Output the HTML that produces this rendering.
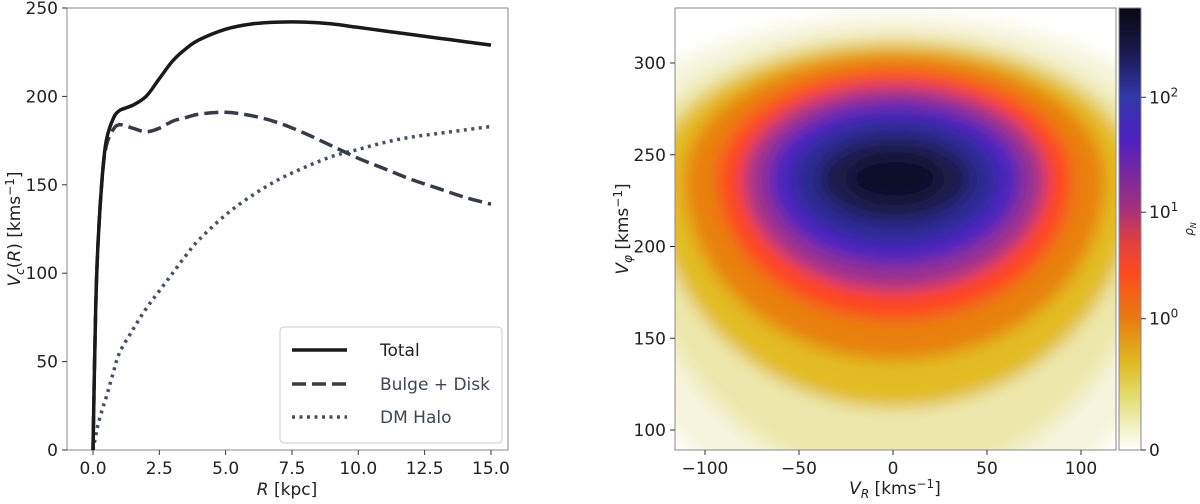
<!DOCTYPE html>
<html><head><meta charset="utf-8"><style>
html,body{margin:0;background:#fff;overflow:hidden;width:1200px;height:504px;font-family:"Liberation Sans","DejaVu Sans",sans-serif}
svg{display:block}
text{font-family:"DejaVu Sans","Liberation Sans",sans-serif;fill:#222}
</style></head><body>
<svg id="s" width="1200" height="504" viewBox="0 0 1200 504">
<defs>
<linearGradient id="cb" x1="0" y1="0" x2="0" y2="1">
<stop offset="0" stop-color="#08080f"/><stop offset="0.1" stop-color="#1a1a50"/>
<stop offset="0.2" stop-color="#3038a8"/><stop offset="0.3" stop-color="#5020c0"/>
<stop offset="0.45" stop-color="#a03080"/><stop offset="0.53" stop-color="#e04040"/>
<stop offset="0.6" stop-color="#ff4a20"/><stop offset="0.7" stop-color="#e87a10"/>
<stop offset="0.8" stop-color="#e0b820"/><stop offset="0.88" stop-color="#e4dc70"/>
<stop offset="0.95" stop-color="#f2f2c8"/><stop offset="1" stop-color="#fffffa"/>
</linearGradient>
<filter id="blur" x="-50%" y="-50%" width="200%" height="200%"><feGaussianBlur stdDeviation="8"/></filter>
<clipPath id="rc"><rect x="675" y="8" width="441" height="442"/></clipPath>
</defs>
<g id="left"></g>
<g id="right"></g>
</svg>
<script>
const R = [0,0.1,0.2,0.35,0.5,0.75,1,1.5,2,2.5,3,3.5,4,5,6,7,8,9,10,11,12,13,14,15];
const total = [0,80,120,155,175,187,192,195,200,210,220,227,232,238,241,242,242,241,239,237,235,233,231,229];
const disk = [0,80,120,155,172,181,184,182,180,182,186,188,190,191,189,185,179,172,165,159,153,148,143,139];
const halo = [0,8,15,23,30,43,55,68,80,90,100,110,119,133,144,153,160,166,170,174,177,179,181,183];
const xTicks = [0,2.5,5,7.5,10,12.5,15];
const yTicks = [0,50,100,150,200,250];
const vrTicks = [-100,-50,0,50,100];
const vpTicks = [100,150,200,250,300];
const cbTicks = ["0","10^0","10^1","10^2"];
const cbTickFrac = [1,0.703,0.462,0.202];
// density contour bands (outer -> inner), in km/s
const peakCenter = [1,237];
const bandHalfWidth = [165,142,128,112,94,80,67,54,40,24];
const bandTop = [326,316,311,305,296,287,278,269,259,249];
const bandBottom = [40,72,112,138,160,176,190,202,214,225];
const bandColor = ["#f6f4dc","#ece8ac","#e2bc22","#e88010","#ff4422","#9a3090","#4a28c0","#2a2a90","#1a1a48","#10102a"];

const NS="http://www.w3.org/2000/svg";
function el(t,a,p){const e=document.createElementNS(NS,t);for(const k in a)e.setAttribute(k,a[k]);p.appendChild(e);return e;}
const L=document.getElementById('left'), Rg=document.getElementById('right');
const lx=v=>93+v*26.53, ly=v=>450-v*1.768;
const rx=v=>893+v*1.88, ry=v=>430-(v-100)*1.835;
const FS=17;

let f=el('rect',{x:67,y:8,width:441,height:442,fill:'none',stroke:'#888','stroke-width':1},L);

xTicks.forEach(v=>{const x=lx(v);el('line',{x1:x,x2:x,y1:450,y2:455,stroke:'#333'},L);
 const t=el('text',{x:x,y:474,'text-anchor':'middle','font-size':FS},L);t.textContent=v.toFixed(1);
 });
yTicks.forEach(v=>{const y=ly(v);el('line',{x1:62,x2:67,y1:y,y2:y,stroke:'#333'},L);
 const t=el('text',{x:58,y:y+6,'text-anchor':'end','font-size':FS},L);t.textContent=v;
 });
let t=el('text',{x:287,y:495,'text-anchor':'middle','font-size':FS},L);t.innerHTML='<tspan font-style="italic">R</tspan> [kpc]';

t=el('text',{x:0,y:0,'text-anchor':'middle','font-size':FS,transform:'translate(20,229) rotate(-90)'},L);
t.innerHTML='<tspan font-style="italic">V</tspan><tspan font-size="12" dy="4" font-style="italic">c</tspan><tspan dy="-4">(</tspan><tspan font-style="italic">R</tspan>) [kms<tspan font-size="12" dy="-6">−1</tspan><tspan dy="6">]</tspan>';

function smooth(pts){let d='M'+pts[0][0]+','+pts[0][1];
 for(let i=0;i<pts.length-1;i++){const p0=pts[Math.max(0,i-1)],p1=pts[i],p2=pts[i+1],p3=pts[Math.min(pts.length-1,i+2)];
  const c1=[p1[0]+(p2[0]-p0[0])/6,p1[1]+(p2[1]-p0[1])/6],c2=[p2[0]-(p3[0]-p1[0])/6,p2[1]-(p3[1]-p1[1])/6];
  d+='C'+c1.map(v=>v.toFixed(1))+' '+c2.map(v=>v.toFixed(1))+' '+p2.map(v=>v.toFixed(1));}
 return d;}
function line(arr,color,dash,name){const pts=R.map((r,i)=>[lx(r),ly(arr[i])]);
 const p=el('path',{d:smooth(pts),fill:'none',stroke:color,'stroke-width':3.5,'stroke-dasharray':dash},L);
 }
line(halo,'#465064','3,4.5','dm-halo-line');
line(disk,'#353b48','14,6','bulge-disk-line');
line(total,'#1a1a1a','none','total-line');
const lg=el('g',{},L);
el('rect',{x:280,y:327,width:222,height:116,rx:4,fill:'#fff',stroke:'#ccc'},lg);
[['Total','#1a1a1a','none',350],['Bulge + Disk','#353b48','14,6',384],['DM Halo','#465064','3,4.5',417]].forEach(e=>{
 const y=e[3];el('line',{x1:292,x2:347,y1:y,y2:y,stroke:e[1],'stroke-width':3.5,'stroke-dasharray':e[2]},lg);
 const tt=el('text',{x:380,y:y+6,'font-size':FS,style:'fill:'+(e[0]==='Total'?'#222':'#3c4658')},lg);tt.textContent=e[0];
 });

const hg=el('g',{'clip-path':'url(#rc)'},Rg);

el('rect',{x:675,y:8,width:441,height:442,fill:'#fff'},hg);
const bg=el('g',{filter:'url(#blur)'},hg);
const cx=rx(peakCenter[0]), cy=ry(peakCenter[1]);
bandColor.forEach((c,i)=>{
 const hw=bandHalfWidth[i]*1.88, tp=cy-ry(bandTop[i]), bt=ry(bandBottom[i])-cy;
 const d=`M${cx-hw},${cy} A${hw},${tp} 0 0 1 ${cx+hw},${cy} A${hw},${bt} 0 0 1 ${cx-hw},${cy}Z`;
 const p=el('path',{d:d,fill:c},bg);
 });
f=el('rect',{x:675,y:8,width:441,height:442,fill:'none',stroke:'#888'},Rg);

vrTicks.forEach(v=>{const x=rx(v);el('line',{x1:x,x2:x,y1:450,y2:455,stroke:'#333'},Rg);
 const tt=el('text',{x:x,y:474,'text-anchor':'middle','font-size':FS},Rg);tt.textContent=v<0?'−'+(-v):v;
 });
vpTicks.forEach(v=>{const y=ry(v);el('line',{x1:670,x2:675,y1:y,y2:y,stroke:'#333'},Rg);
 const tt=el('text',{x:666,y:y+6,'text-anchor':'end','font-size':FS},Rg);tt.textContent=v;
 });
t=el('text',{x:895,y:494,'text-anchor':'middle','font-size':FS},Rg);
t.innerHTML='<tspan font-style="italic">V</tspan><tspan font-size="12" dy="4" font-style="italic">R</tspan><tspan dy="-4"> [kms</tspan><tspan font-size="12" dy="-6">−1</tspan><tspan dy="6">]</tspan>';

t=el('text',{x:0,y:0,'text-anchor':'middle','font-size':FS,transform:'translate(628,229) rotate(-90)'},Rg);
t.innerHTML='<tspan font-style="italic">V</tspan><tspan font-size="12" dy="4" font-style="italic">φ</tspan><tspan dy="-4"> [kms</tspan><tspan font-size="12" dy="-6">−1</tspan><tspan dy="6">]</tspan>';

const cb=el('rect',{x:1119,y:8,width:22,height:442,fill:'url(#cb)',stroke:'#888'},Rg);

cbTicks.forEach((s,i)=>{const y=8+cbTickFrac[i]*442;el('line',{x1:1141,x2:1146,y1:y,y2:y,stroke:'#333'},Rg);
 const tt=el('text',{x:1149,y:y+6,'font-size':FS},Rg);
 if(s.indexOf('^')>0){const p=s.split('^');tt.innerHTML=p[0]+'<tspan font-size="12" dy="-7">'+p[1]+'</tspan>';}else tt.textContent=s;
 });
t=el('text',{x:0,y:0,'text-anchor':'middle','font-size':12,transform:'translate(1193,229) rotate(-90)'},Rg);
t.innerHTML='<tspan font-style="italic">ρ</tspan><tspan font-size="8" dy="3" font-style="italic">N</tspan>';

</script>
</body></html>
